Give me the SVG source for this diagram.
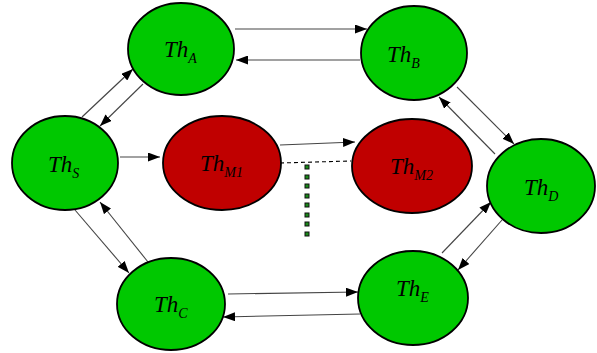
<svg xmlns="http://www.w3.org/2000/svg" width="597" height="353" viewBox="0 0 597 353">
<style>
.g{fill:#00c800;stroke:#000;stroke-width:1.8}
.r{fill:#c00000;stroke:#000;stroke-width:1.8}
.t{font-family:"Liberation Serif",serif;font-style:italic;font-size:23px;fill:#000}
.s{font-size:14px}
.c line{stroke:#444;stroke-width:1.1;fill:none}
.a{marker-end:url(#ah)}
.dash{stroke:#000 !important;stroke-dasharray:4 3}
.sq{fill:#1a8a1a;stroke:#111;stroke-width:1}
</style>
<defs>
<marker id="ah" viewBox="0 0 12 9" refX="12" refY="4.5" markerWidth="12" markerHeight="9" markerUnits="userSpaceOnUse" orient="auto">
<path d="M0,0 L12,4.5 L0,9 z" fill="#000"/>
</marker>
</defs>
<g class="c" id="connectors">
<line class="a" x1="235" y1="29" x2="367" y2="29"/>
<line class="a" x1="360" y1="60" x2="236" y2="60"/>
<line class="a" x1="82" y1="117" x2="133" y2="69"/>
<line class="a" x1="143" y1="84" x2="100" y2="126"/>
<line class="a" x1="120" y1="157" x2="160" y2="157"/>
<line class="a" x1="75" y1="210" x2="129" y2="273"/>
<line class="a" x1="148" y1="262" x2="100" y2="202"/>
<line class="a" x1="228" y1="294" x2="358" y2="292"/>
<line class="a" x1="360" y1="314" x2="223" y2="317"/>
<line class="a" x1="442" y1="253" x2="491" y2="202"/>
<line class="a" x1="502" y1="220" x2="458" y2="270"/>
<line class="a" x1="457" y1="87" x2="514" y2="144"/>
<line class="a" x1="495" y1="154" x2="439" y2="97"/>
<line class="a" x1="280" y1="145" x2="355" y2="142"/>
<line class="dash" x1="280" y1="163" x2="351" y2="161"/>
<g id="dots">
<rect class="sq" x="305" y="165" width="4" height="4"/>
<rect class="sq" x="305" y="175" width="4" height="4"/>
<rect class="sq" x="305" y="184" width="4" height="4"/>
<rect class="sq" x="305" y="194" width="4" height="4"/>
<rect class="sq" x="305" y="203" width="4" height="4"/>
<rect class="sq" x="305" y="213" width="4" height="4"/>
<rect class="sq" x="305" y="222" width="4" height="4"/>
<rect class="sq" x="305" y="232" width="4" height="4"/>
</g>
</g>
<g id="ThA"><ellipse class="g" cx="181" cy="49" rx="53" ry="46"/><text class="t" x="164" y="57">Th<tspan class="s" dy="6">A</tspan></text></g>
<g id="ThB"><ellipse class="g" cx="414" cy="53" rx="53" ry="47"/><text class="t" x="387" y="62">Th<tspan class="s" dy="6">B</tspan></text></g>
<g id="ThS"><ellipse class="g" cx="65" cy="163" rx="53" ry="47"/><text class="t" x="48" y="172">Th<tspan class="s" dy="6">S</tspan></text></g>
<g id="ThM1"><ellipse class="r" cx="222" cy="163" rx="59" ry="47"/><text class="t" x="200" y="171">Th<tspan class="s" dy="6">M1</tspan></text></g>
<g id="ThM2"><ellipse class="r" cx="412" cy="166" rx="60" ry="47"/><text class="t" x="390" y="174">Th<tspan class="s" dy="6">M2</tspan></text></g>
<g id="ThD"><ellipse class="g" cx="541" cy="186" rx="54" ry="47"/><text class="t" x="524" y="195">Th<tspan class="s" dy="6">D</tspan></text></g>
<g id="ThC"><ellipse class="g" cx="171" cy="304" rx="54" ry="46"/><text class="t" x="154" y="312">Th<tspan class="s" dy="6">C</tspan></text></g>
<g id="ThE"><ellipse class="g" cx="413" cy="298" rx="55" ry="47"/><text class="t" x="396" y="296">Th<tspan class="s" dy="6">E</tspan></text></g>
</svg>
